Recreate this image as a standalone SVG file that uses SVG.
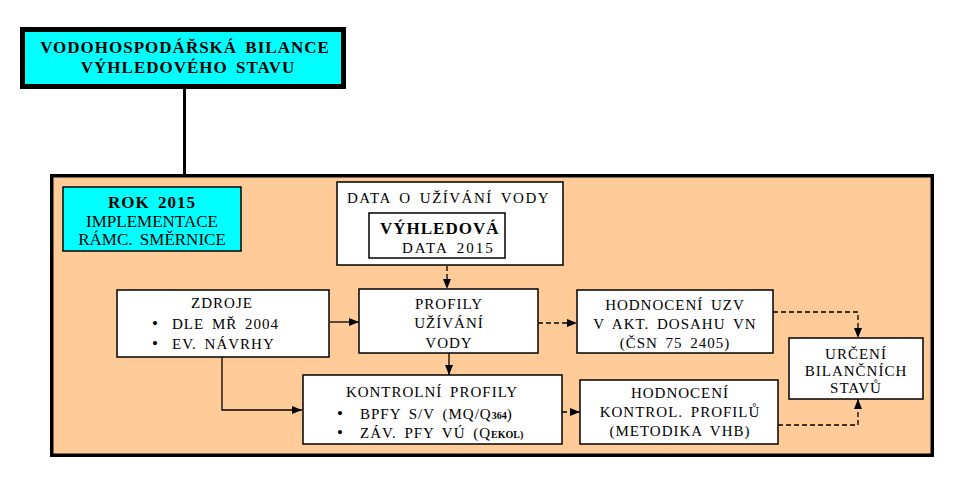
<svg xmlns="http://www.w3.org/2000/svg" width="967" height="485" viewBox="0 0 967 485">
<style>
text{font-family:"Liberation Serif","Times New Roman",serif;font-size:15px;fill:#000;letter-spacing:1px;word-spacing:3px}
.c{text-anchor:middle}
.b{font-weight:bold}
.box{fill:#fff;stroke:#000;stroke-width:1.5}
.cy{fill:#00ffff;stroke:#000;stroke-width:1.5}
.ln{fill:none;stroke:#000;stroke-width:1.3}
.dash{fill:none;stroke:#000;stroke-width:1.3;stroke-dasharray:5 3}
.sub{font-size:10px;font-weight:bold;letter-spacing:0}
.bul{font-size:17px}
</style>
<defs>
<marker id="ah" viewBox="0 0 10 10" refX="10" refY="5" markerWidth="10" markerHeight="10" markerUnits="userSpaceOnUse" orient="auto">
<path d="M0,1 L10,5 L0,9 Z" fill="#000"/>
</marker>
</defs>
<g id="title">
<rect x="22.5" y="29.5" width="321" height="57" fill="#00ffff" stroke="#000" stroke-width="5"/>
<text class="c b" x="185" y="53" style="font-size:17px">VODOHOSPODÁŘSKÁ BILANCE</text>
<text class="c b" x="188" y="73" style="font-size:17px">VÝHLEDOVÉHO STAVU</text>
</g>
<g id="container">
<rect x="51.75" y="175.75" width="880.5" height="279.5" fill="#ffcc99" stroke="#000" stroke-width="3.5"/>
</g>
<g id="connectors">
<line x1="184.5" y1="87" x2="184.5" y2="174" stroke="#000" stroke-width="3"/>
<line class="dash" x1="447" y1="258" x2="447" y2="289" marker-end="url(#ah)"/>
<line class="ln" x1="330" y1="322" x2="359" y2="322" marker-end="url(#ah)"/>
<polyline class="ln" points="222,357 222,410 302,410" marker-end="url(#ah)"/>
<line class="ln" x1="449" y1="353" x2="449" y2="375" marker-end="url(#ah)"/>
<line class="dash" x1="538" y1="323" x2="577" y2="323" marker-end="url(#ah)"/>
<line class="dash" x1="562" y1="412" x2="580" y2="412" marker-end="url(#ah)"/>
<polyline class="dash" points="773,312 858,312 858,338" marker-end="url(#ah)"/>
<polyline class="dash" points="778,425 858,425 858,399" marker-end="url(#ah)"/>
</g>
<g id="rok">
<rect class="cy" x="63" y="187" width="178" height="64"/>
<text class="c b" x="152" y="208" style="font-size:17px">ROK 2015</text>
<text class="c" x="152" y="227" style="font-size:17px;letter-spacing:0">IMPLEMENTACE</text>
<text class="c" x="152" y="245" style="font-size:17px;letter-spacing:0">RÁMC. SMĚRNICE</text>
</g>
<g id="data">
<rect class="box" x="337" y="182" width="226" height="83"/>
<text x="347" y="203" style="letter-spacing:1.5px">DATA O UŽÍVÁNÍ VODY</text>
</g>
<g id="vyhledova">
<rect class="box" x="369" y="213" width="136" height="45"/>
<text class="b" x="380" y="234" style="font-size:17px">VÝHLEDOVÁ</text>
<text x="402" y="253" style="letter-spacing:2px">DATA 2015</text>
</g>
<g id="zdroje">
<rect class="box" x="117" y="290" width="212" height="67"/>
<text class="c" x="222" y="308">ZDROJE</text>
<text class="bul" x="152" y="329">•</text>
<text x="172" y="329">DLE MŘ 2004</text>
<text class="bul" x="152" y="349">•</text>
<text x="172" y="349">EV. NÁVRHY</text>
</g>
<g id="profily">
<rect class="box" x="359" y="289" width="179" height="64"/>
<text class="c" x="449" y="309">PROFILY</text>
<text class="c" x="449" y="328">UŽÍVÁNÍ</text>
<text class="c" x="449" y="348">VODY</text>
</g>
<g id="hodnoceni-uzv">
<rect class="box" x="577" y="290" width="196" height="63"/>
<text class="c" x="675" y="310">HODNOCENÍ UZV</text>
<text class="c" x="675" y="329">V AKT. DOSAHU VN</text>
<text class="c" x="675" y="348">(ČSN 75 2405)</text>
</g>
<g id="urceni">
<rect class="box" x="789" y="338" width="134" height="61"/>
<text class="c" x="856" y="359">URČENÍ</text>
<text class="c" x="856" y="376">BILANČNÍCH</text>
<text class="c" x="856" y="393">STAVŮ</text>
</g>
<g id="kontrolni">
<rect class="box" x="303" y="375" width="259" height="69"/>
<text class="c" x="432" y="397">KONTROLNÍ PROFILY</text>
<text class="bul" x="337" y="419">•</text>
<text x="360" y="419">BPFY S/V (MQ/Q<tspan class="sub">364</tspan>)</text>
<text class="bul" x="337" y="438">•</text>
<text x="360" y="438">ZÁV. PFY VÚ (Q<tspan class="sub">EKOL)</tspan></text>
</g>
<g id="hodnoceni-kontrol">
<rect class="box" x="580" y="380" width="198" height="64"/>
<text class="c" x="680" y="398">HODNOCENÍ</text>
<text class="c" x="680" y="417">KONTROL. PROFILŮ</text>
<text class="c" x="680" y="436">(METODIKA VHB)</text>
</g>
</svg>
